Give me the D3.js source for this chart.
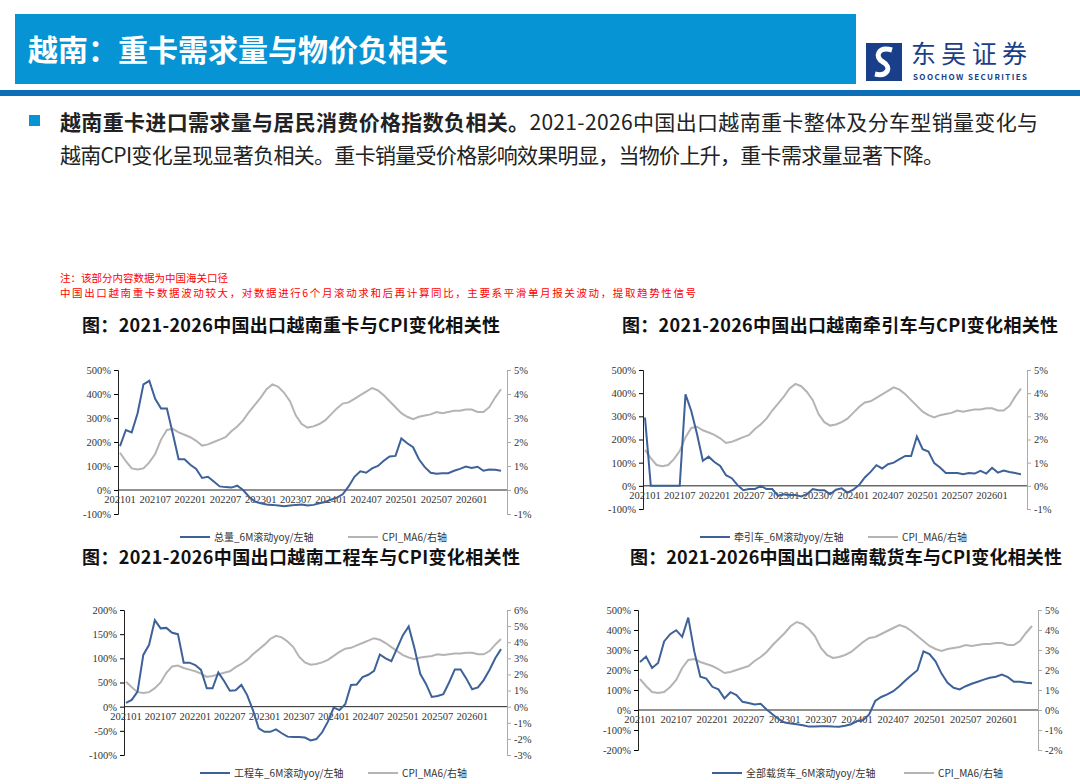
<!DOCTYPE html>
<html><head><meta charset="utf-8">
<script src="https://cdn.jsdelivr.net/npm/d3@7/dist/d3.min.js"></script>
<style>body{margin:0;background:#fff;font-family:"Noto Sans CJK SC","Noto Sans",sans-serif}</style>
</head><body><svg id="s" width="1080" height="784"></svg>
<script>
const months = d3.range(66).map(i=>{const y=2021+Math.floor(i/12),m=i%12+1;return y+String(m).padStart(2,"0");});
const tickLabels = ["202101","202107","202201","202207","202301","202307","202401","202407","202501","202507","202601"];
const cpi = [1.55,1.2,0.9,0.85,0.9,1.15,1.5,2.1,2.5,2.55,2.4,2.3,2.2,2.05,1.85,1.9,2.0,2.1,2.2,2.45,2.65,2.9,3.25,3.55,3.85,4.2,4.4,4.3,4.05,3.7,3.1,2.75,2.6,2.65,2.75,2.9,3.15,3.4,3.6,3.65,3.8,3.95,4.1,4.25,4.15,3.95,3.7,3.45,3.2,3.05,2.95,3.05,3.1,3.15,3.25,3.2,3.25,3.3,3.3,3.35,3.35,3.25,3.25,3.45,3.85,4.2];
const total = [183,250,240,320,440,455,380,340,340,235,128,128,105,88,50,55,35,15,12,10,18,0,-28,-48,-55,-60,-62,-65,-68,-65,-62,-60,-65,-62,-55,-50,-40,-32,-18,15,55,78,72,90,100,122,140,142,215,195,178,128,95,72,68,70,70,80,88,98,92,97,80,85,84,80];
const tractor = [295,0,0,0,0,0,0,395,323,223,108,126,103,86,46,33,3,-19,-14,-14,0,-14,-14,-43,-36,-40,-40,-46,-36,-14,-19,-19,-36,-17,-11,-29,-17,3,36,60,89,75,93,100,115,129,129,213,158,148,98,79,55,55,55,50,55,53,65,53,78,57,66,60,55,50];
const engineering = [8,14,31,107,128,179,162,163,153,150,91,91,86,76,38,38,71,53,33,34,45,24,-7,-45,-52,-52,-47,-55,-62,-63,-63,-64,-70,-67,-53,-31,-2,-7,5,45,46,61,66,74,108,100,94,121,148,166,121,68,47,20,22,26,50,77,77,58,36,40,55,76,100,119];
const freight = [240,267,210,235,343,379,399,366,462,293,166,157,116,103,58,89,75,41,35,28,31,3,-22,-46,-63,-68,-71,-76,-83,-83,-81,-81,-83,-84,-79,-71,-55,-50,-22,45,65,78,94,119,147,174,199,293,280,243,182,136,111,103,119,131,141,152,161,166,177,164,141,141,136,134];

const svg=d3.select("#s");
svg.append("rect").attr("x",15).attr("y",14).attr("width",841).attr("height",70).attr("fill","#0794d4");
svg.append("text").attr("x",28).attr("y",61).attr("fill","#fff").attr("font-size",30).attr("font-weight",700).text("越南：重卡需求量与物价负相关");
svg.append("rect").attr("x",0).attr("y",90).attr("width",1080).attr("height",6).attr("fill","#0c6fb8");
const lg=svg.append("g").attr("transform","translate(866,43)");
lg.append("rect").attr("width",36).attr("height",38).attr("fill","#1a3f8a");
lg.append("path").attr("d","M26,7 C12,3 8,14 17,19 C26,24 22,34 9,31").attr("stroke","#fff").attr("stroke-width",5).attr("fill","none");
svg.append("text").attr("x",911).attr("y",63).attr("font-size",25).attr("fill","#1a3f8a").attr("textLength",116).text("东吴证券");
svg.append("text").attr("x",913).attr("y",80).attr("font-size",8).attr("font-weight",700).attr("fill","#1a3f8a").attr("textLength",114).text("SOOCHOW SECURITIES");
svg.append("rect").attr("x",29).attr("y",115).attr("width",11).attr("height",11).attr("fill","#0794d4");
const t1=svg.append("text").attr("x",60).attr("y",130).attr("font-size",21).attr("fill","#222").attr("textLength",978);
t1.append("tspan").attr("font-weight",700).text("越南重卡进口需求量与居民消费价格指数负相关。");
t1.append("tspan").text("2021-2026中国出口越南重卡整体及分车型销量变化与");
svg.append("text").attr("x",60).attr("y",163).attr("font-size",21).attr("fill","#222").attr("textLength",884).text("越南CPI变化呈现显著负相关。重卡销量受价格影响效果明显，当物价上升，重卡需求量显著下降。");
svg.append("text").attr("x",60).attr("y",282).attr("font-size",10.5).attr("fill","#f00").text("注：该部分内容数据为中国海关口径");
svg.append("text").attr("x",60).attr("y",297).attr("font-size",10.5).attr("fill","#f00").attr("textLength",636).text("中国出口越南重卡数据波动较大，对数据进行6个月滚动求和后再计算同比，主要系平滑单月报关波动，提取趋势性信号");

function chart(o){
  const g=svg.append("g");
  g.append("text").attr("x",o.tx).attr("y",o.ty).attr("font-size",18).attr("font-weight",700).attr("fill","#111").attr("textLength",o.tw).text(o.title);
  const x=d3.scaleLinear().domain([0,65]).range([o.x0+2,o.x1-6]);
  const yl=d3.scaleLinear().domain(o.ld).range([o.y1,o.y0]);
  const yr=d3.scaleLinear().domain(o.rd).range([o.y1,o.y0]);
  const ff="Liberation Serif, serif";
  const la=g.append("g").attr("transform",`translate(${o.x0},0)`).call(d3.axisLeft(yl).tickValues(d3.range(o.ld[0],o.ld[1]+1,o.ls)).tickSize(4).tickFormat(d=>d+"%"));
  la.selectAll("text").attr("font-family",ff).attr("font-size",10.5).attr("fill","#333");
  la.select(".domain").attr("stroke","#222");
  const ra=g.append("g").attr("transform",`translate(${o.x1},0)`).call(d3.axisRight(yr).tickValues(d3.range(o.rd[0],o.rd[1]+1,1)).tickSize(4).tickFormat(d=>d+"%"));
  ra.selectAll("text").attr("font-family",ff).attr("font-size",10.5).attr("fill","#333");
  ra.selectAll("path,line").attr("stroke","#aaa");
  g.append("line").attr("x1",o.x0).attr("x2",o.x1).attr("y1",yl(0)).attr("y2",yl(0)).attr("stroke","#222");
  tickLabels.forEach(t=>{const i=months.indexOf(t);
    g.append("text").attr("x",x(i)).attr("y",yl(0)+13).attr("text-anchor","middle").attr("font-family",ff).attr("font-size",10.5).attr("fill","#333").text(t);});
  g.append("path").datum(cpi).attr("fill","none").attr("stroke","#b4b4b4").attr("stroke-width",2).attr("d",d3.line().x((d,i)=>x(i)).y(d=>yr(d)));
  g.append("path").datum(o.data).attr("fill","none").attr("stroke","#3d6198").attr("stroke-width",2).attr("d",d3.line().x((d,i)=>x(i)).y(d=>yl(d)));
  const lx=o.lx, ly=o.ly;
  g.append("line").attr("x1",lx).attr("x2",lx+30).attr("y1",ly).attr("y2",ly).attr("stroke","#3d6198").attr("stroke-width",2);
  g.append("text").attr("x",lx+34).attr("y",ly+4).attr("font-size",10).attr("fill","#333").text(o.leg);
  g.append("line").attr("x1",lx+o.lg2).attr("x2",lx+o.lg2+30).attr("y1",ly).attr("y2",ly).attr("stroke","#b4b4b4").attr("stroke-width",2);
  g.append("text").attr("x",lx+o.lg2+34).attr("y",ly+4).attr("font-size",10).attr("fill","#333").text("CPI_MA6/右轴");
}
chart({title:"图：2021-2026中国出口越南重卡与CPI变化相关性",tw:418,tx:82,ty:332,x0:118,x1:507,y0:370,y1:514,ld:[-100,500],ls:100,rd:[-1,5],data:total,leg:"总量_6M滚动yoy/左轴",lx:180,ly:537,lg2:168});
chart({title:"图：2021-2026中国出口越南牵引车与CPI变化相关性",tw:436,tx:622,ty:332,x0:643,x1:1027,y0:370,y1:509,ld:[-100,500],ls:100,rd:[-1,5],data:tractor,leg:"牵引车_6M滚动yoy/左轴",lx:700,ly:537,lg2:168});
chart({title:"图：2021-2026中国出口越南工程车与CPI变化相关性",tw:438,tx:82,ty:564,x0:124,x1:507,y0:610,y1:755,ld:[-100,200],ls:50,rd:[-3,6],data:engineering,leg:"工程车_6M滚动yoy/左轴",lx:200,ly:773,lg2:168});
chart({title:"图：2021-2026中国出口越南载货车与CPI变化相关性",tw:432,tx:630,ty:564,x0:638,x1:1038,y0:610,y1:750,ld:[-200,500],ls:100,rd:[-2,5],data:freight,leg:"全部载货车_6M滚动yoy/左轴",lx:712,ly:773,lg2:192});
</script></body></html>
